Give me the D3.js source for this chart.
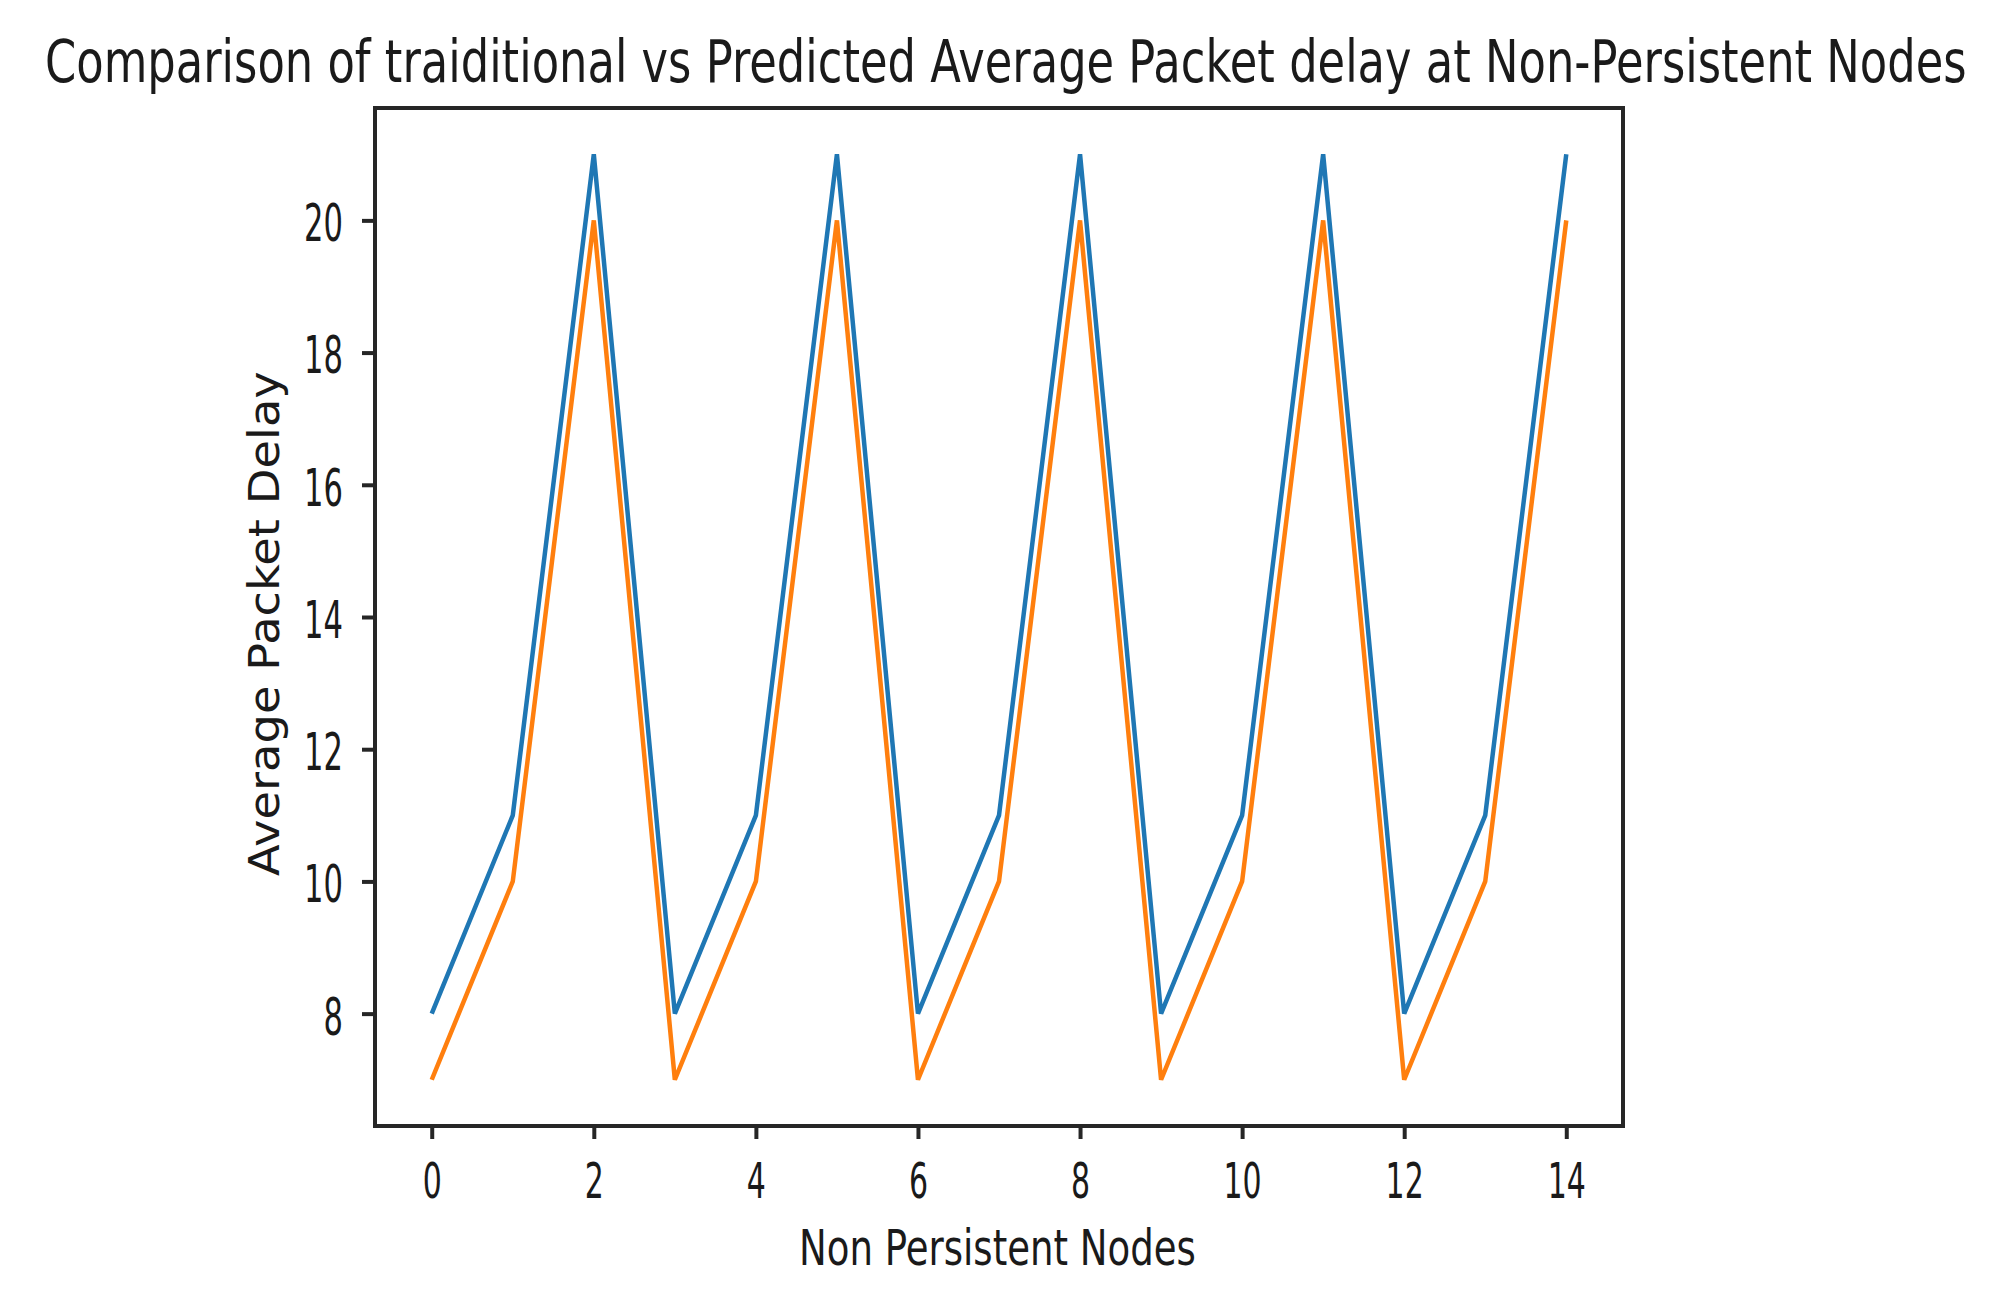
<!DOCTYPE html>
<html>
<head>
<meta charset="utf-8">
<script src="https://cdn.jsdelivr.net/npm/d3@7"></script>
<style>
  html, body { margin: 0; padding: 0; background: #fff; }
  text { font-family: "DejaVu Sans", sans-serif; fill: #1a1a1a; }
</style>
</head>
<body>
<svg id="chart" width="1995" height="1296"></svg>
<script>
// ---- data ----
const nodes = [0,1,2,3,4,5,6,7,8,9,10,11,12,13,14];
const traditional = [8,11,21,8,11,21,8,11,21,8,11,21,8,11,21];
const predicted   = [7,10,20,7,10,20,7,10,20,7,10,20,7,10,20];
const xTicks = [0,2,4,6,8,10,12,14];
const yTicks = [8,10,12,14,16,18,20];
const titleText = "Comparison of traiditional vs Predicted Average Packet delay at Non-Persistent Nodes";
const xLabelText = "Non Persistent Nodes";
const yLabelText = "Average Packet Delay";

// ---- layout ----
const L = 375, R = 1623, T = 108, B = 1126;
const svg = d3.select("#chart");
const frameColor = "#262626";

const x = d3.scaleLinear().domain([-0.7, 14.7]).range([L, R]);
const y = d3.scaleLinear().domain([6.3, 21.7]).range([B, T]);

const line = d3.line().x((d, i) => x(nodes[i])).y(d => y(d));

svg.append("path").datum(traditional)
  .attr("d", line).attr("fill", "none")
  .attr("stroke", "#1f77b4").attr("stroke-width", 4.5)
  .attr("stroke-linejoin", "miter").attr("stroke-linecap", "butt");
svg.append("path").datum(predicted)
  .attr("d", line).attr("fill", "none")
  .attr("stroke", "#ff7f0e").attr("stroke-width", 4.5)
  .attr("stroke-linejoin", "miter").attr("stroke-linecap", "butt");

// frame
svg.append("rect").attr("x", L).attr("y", T).attr("width", R - L).attr("height", B - T)
  .attr("fill", "none").attr("stroke", frameColor).attr("stroke-width", 4);

const SX = 0.6; // horizontal compression of glyphs

// x axis
const gx = svg.append("g").attr("transform", `translate(0,${B})`)
  .call(d3.axisBottom(x).tickValues(xTicks).tickSize(13).tickFormat(d3.format("d")));
gx.select(".domain").remove();
gx.selectAll(".tick line").attr("stroke", frameColor).attr("stroke-width", 4);
gx.selectAll(".tick text")
  .attr("font-size", 50).attr("y", 72).attr("dy", 0)
  .attr("text-anchor", "middle")
  .attr("transform", `scale(${SX},1)`)
  .style("font-family", "DejaVu Sans").attr("fill", "#1a1a1a");

// y axis
const gy = svg.append("g").attr("transform", `translate(${L},0)`)
  .call(d3.axisLeft(y).tickValues(yTicks).tickSize(13).tickFormat(d3.format("d")));
gy.select(".domain").remove();
gy.selectAll(".tick line").attr("stroke", frameColor).attr("stroke-width", 4);
gy.selectAll(".tick text")
  .attr("font-size", 51).attr("x", -32 / SX).attr("dy", "0.40em")
  .attr("text-anchor", "end")
  .attr("transform", `scale(${SX},1)`)
  .style("font-family", "DejaVu Sans").attr("fill", "#1a1a1a");

// fit text horizontally between x0 and x1
function fitText(sel, x0, x1) {
  const w = sel.node().getComputedTextLength();
  const s = (x1 - x0) / w;
  const yb = +sel.attr("data-y");
  sel.attr("x", 0).attr("y", 0)
     .attr("transform", `translate(${x0},${yb}) scale(${s},1)`);
}

const title = svg.append("text").text(titleText)
  .attr("font-size", 59).attr("data-y", 82);
fitText(title, 45, 1967);

const xl = svg.append("text").text(xLabelText)
  .attr("font-size", 50).attr("data-y", 1265);
fitText(xl, 799, 1196);

// y label rotated: length along vertical
const yl = svg.append("text").text(yLabelText).attr("font-size", 43);
{
  const w = yl.node().getComputedTextLength();
  const s = (876 - 371) / w;
  yl.attr("x", 0).attr("y", 0)
    .attr("transform", `translate(279,876) rotate(-90) scale(${s},1)`);
}
</script>
</body>
</html>
